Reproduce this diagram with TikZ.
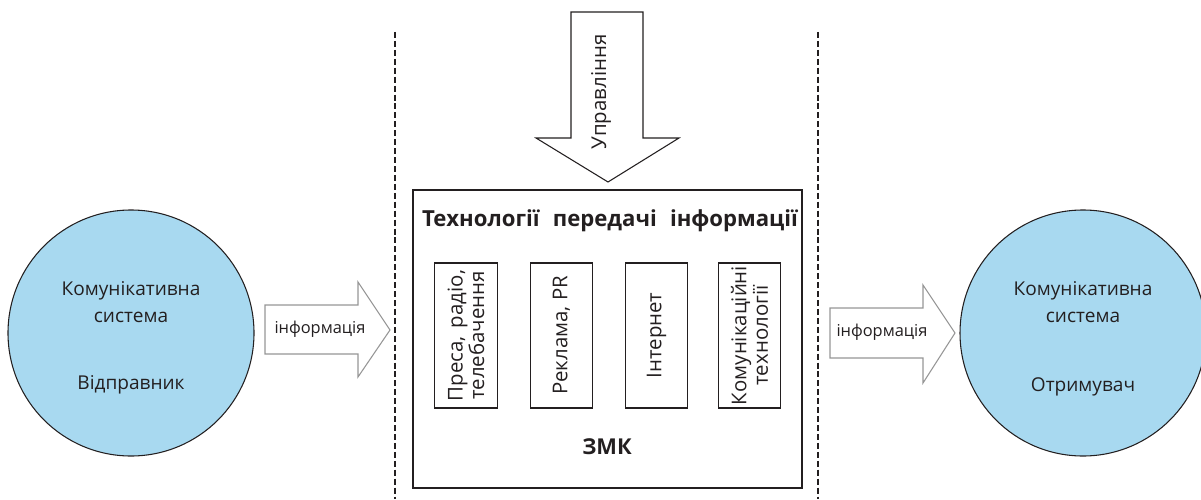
\documentclass[tikz,border=0pt]{standalone}
\usepackage{fontspec}
\setmainfont{Open Sans}
\definecolor{cblue}{RGB}{168,217,240}
\definecolor{txt}{RGB}{35,31,32}
\definecolor{agray}{RGB}{150,150,150}
\begin{document}
\begin{tikzpicture}[x=0.75pt,y=-0.75pt,
  every node/.style={text=txt},
  circ/.style={circle,draw=txt,line width=0.8pt,fill=cblue,minimum size=184.5pt,inner sep=0pt},
  ctext/.style={font=\fontsize{14.3}{16}\selectfont,inner sep=0pt},
  blockarrow/.style={draw=agray,line width=0.8pt,fill=white},
  dline/.style={line width=1.5pt,dash pattern=on 4.5pt off 2.2pt,draw=txt},
  bigbox/.style={draw=txt,line width=0.8pt,minimum width=291.75pt,minimum height=223.5pt,inner sep=0pt},
  smallbox/.style={draw=txt,line width=0.8pt,minimum width=47pt,minimum height=108.75pt,inner sep=0pt},
  rtext/.style={rotate=90,font=\fontsize{15.3}{16}\selectfont,align=center,inner sep=0pt},
  atext/.style={font=\fontsize{12.3}{14}\selectfont,inner sep=0pt}
]
\useasboundingbox (0,0) rectangle (1201,499);
% dashed separators
\coordinate (d1t) at (395,32); \coordinate (d1b) at (395,499);
\coordinate (d2t) at (818,32); \coordinate (d2b) at (818,499);
\draw[dline] (d1t) -- (d1b);
\draw[dline] (d2t) -- (d2b);
% circles
\node[circ] (send) at (131,333) {};
\node[circ] (recv) at (1083,333) {};
\node[ctext] (s1) at (131,291) {Комунікативна};
\node[ctext] (s2) at (131,317) {система};
\node[ctext] (s3) at (131,385) {Відправник};
\node[ctext] (r1) at (1083,291) {Комунікативна};
\node[ctext] (r2) at (1083,317) {система};
\node[ctext] (r3) at (1083,387) {Отримувач};
% left arrow
\draw[blockarrow] (265,305) -- (358,305) -- (358,282) -- (390,330) -- (358,377) -- (358,354) -- (265,354) -- cycle;
\node[atext] (la) at (320,329) {інформація};
% right arrow
\draw[blockarrow] (830,308) -- (923,308) -- (923,285) -- (955,333) -- (923,383) -- (923,358) -- (830,358) -- cycle;
\node[atext] (ra) at (882,332) {інформація};
% top arrow
\draw[draw=txt,line width=0.8pt,fill=white] (571,12) -- (643,12) -- (643,138) -- (679,138) -- (608,182) -- (536,138) -- (571,138) -- cycle;
\node[rtext] (up) at (601,92) {Управління};
% big box
\node[bigbox] (zmk) at (607.5,339) {};
\node[font=\bfseries\fontsize{16.6}{18}\selectfont,inner sep=0pt] (title) at (610,221) {Технології\hspace{0.6em}передачі\hspace{0.6em}інформації};
\node[font=\bfseries\fontsize{16.4}{18}\selectfont,inner sep=0pt] (zmkl) at (607,447) {ЗМК};
% small boxes
\node[smallbox] (b1) at (466,335.5) {};
\node[smallbox] (b2) at (561.5,335.5) {};
\node[smallbox] (b3) at (656.5,335.5) {};
\node[smallbox] (b4) at (749.5,335.5) {};
\node[rtext] (t1) at (b1) {Преса,\hspace{0.4em}радіо,\\телебачення};
\node[rtext] (t2) at (b2) {Реклама, PR};
\node[rtext] (t3) at (b3) {Інтернет};
\node[rtext] (t4) at (b4) {Комунікаційні\\технології};
\end{tikzpicture}
\end{document}
